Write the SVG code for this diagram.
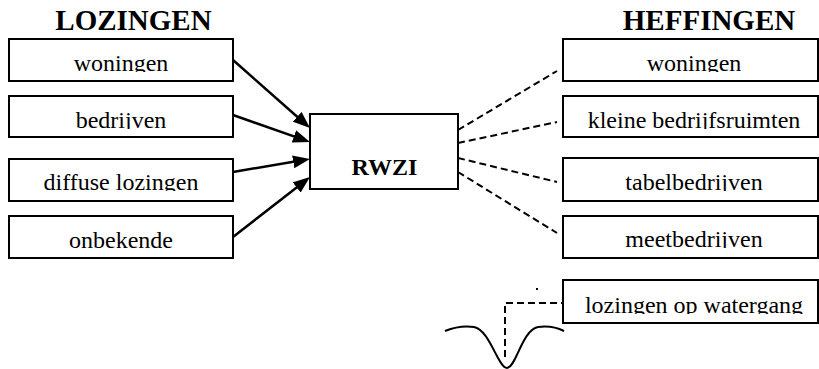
<svg xmlns="http://www.w3.org/2000/svg" width="819" height="369" viewBox="0 0 819 369">
<style>
.box{fill:#fff;stroke:#000;stroke-width:2}
.t{font-family:"Liberation Serif","Times New Roman",serif;font-size:24px;fill:#000;text-anchor:middle}
.h{font-family:"Liberation Serif","Times New Roman",serif;font-size:29px;font-weight:bold;fill:#000;text-anchor:middle}
.b{font-family:"Liberation Serif","Times New Roman",serif;font-size:24px;font-weight:bold;fill:#000;text-anchor:middle}
.arr{stroke:#000;stroke-width:2.5;fill:none;marker-end:url(#ah)}
.dash{stroke:#000;stroke-width:2;fill:none;stroke-dasharray:7 4}
</style>
<defs>
<marker id="ah" viewBox="0 0 17 13" markerWidth="17" markerHeight="13" refX="9" refY="6.5" markerUnits="userSpaceOnUse" orient="auto">
<path d="M0,0 L17,6.5 L0,13 z" fill="#000"/>
</marker>
<clipPath id="tc" clipPathUnits="userSpaceOnUse">
<rect x="10" y="40" width="222" height="32"/>
<rect x="10" y="97" width="222" height="32"/>
<rect x="10" y="160" width="222" height="31"/>
<rect x="10" y="217" width="222" height="32"/>
<rect x="564" y="40" width="255" height="32"/>
<rect x="564" y="97" width="255" height="32"/>
<rect x="564" y="159" width="255" height="32"/>
<rect x="564" y="217" width="255" height="31"/>
<rect x="564" y="281" width="255" height="33"/>
</clipPath>
</defs>

<text class="h" x="133.5" y="30">LOZINGEN</text>
<text class="h" x="709" y="30">HEFFINGEN</text>

<g id="l-woningen"><rect class="box" x="9" y="39" width="224" height="42"/><text class="t" x="121" y="71" clip-path="url(#tc)">woningen</text></g>
<g id="l-bedrijven"><rect class="box" x="9" y="96" width="224" height="41"/><text class="t" x="121" y="128" clip-path="url(#tc)">bedrijven</text></g>
<g id="l-diffuse"><rect class="box" x="9" y="159" width="224" height="42"/><text class="t" x="121" y="190" clip-path="url(#tc)">diffuse lozingen</text></g>
<g id="l-onbekende"><rect class="box" x="9" y="216" width="224" height="42"/><text class="t" x="121" y="248" clip-path="url(#tc)">onbekende</text></g>

<g id="rwzi"><rect class="box" x="310" y="114" width="148" height="75"/><text class="b" x="384.5" y="175">RWZI</text></g>

<g id="r-woningen"><rect class="box" x="563" y="39" width="255" height="42"/><text class="t" x="694" y="71" clip-path="url(#tc)">woningen</text></g>
<g id="r-kleine"><rect class="box" x="563" y="96" width="255" height="41"/><text class="t" x="694" y="128" clip-path="url(#tc)">kleine bedrijfsruimten</text></g>
<g id="r-tabel"><rect class="box" x="563" y="158" width="255" height="43"/><text class="t" x="694" y="190" clip-path="url(#tc)">tabelbedrijven</text></g>
<g id="r-meet"><rect class="box" x="563" y="216" width="255" height="42"/><text class="t" x="694" y="247" clip-path="url(#tc)">meetbedrijven</text></g>
<g id="r-watergang"><rect class="box" x="563" y="280" width="255" height="43"/><text class="t" x="694" y="313" clip-path="url(#tc)">lozingen op watergang</text></g>

<g id="connectors">
<path class="arr" d="M233,60 L304,122.7"/>
<path class="arr" d="M233,115 L302.4,139.4"/>
<path class="arr" d="M233,172 L302.1,160.3"/>
<path class="arr" d="M233,237 L303.7,181.9"/>
<path class="dash" d="M458,130 L557,71"/>
<path class="dash" d="M458,143 L557,122"/>
<path class="dash" d="M458,158 L557,182"/>
<path class="dash" d="M458,172 L557,233"/>
<path class="dash" d="M505,357 V303 H563"/>
</g>

<g id="watergang">
<path d="M445,331 Q460,325 474,327 C490,330 498,368 507,368 C516,368 522,330 538,327 Q552,325 564,331" fill="none" stroke="#000" stroke-width="2"/>
<rect x="536" y="288" width="2" height="2" fill="#000"/>
</g>
</svg>
